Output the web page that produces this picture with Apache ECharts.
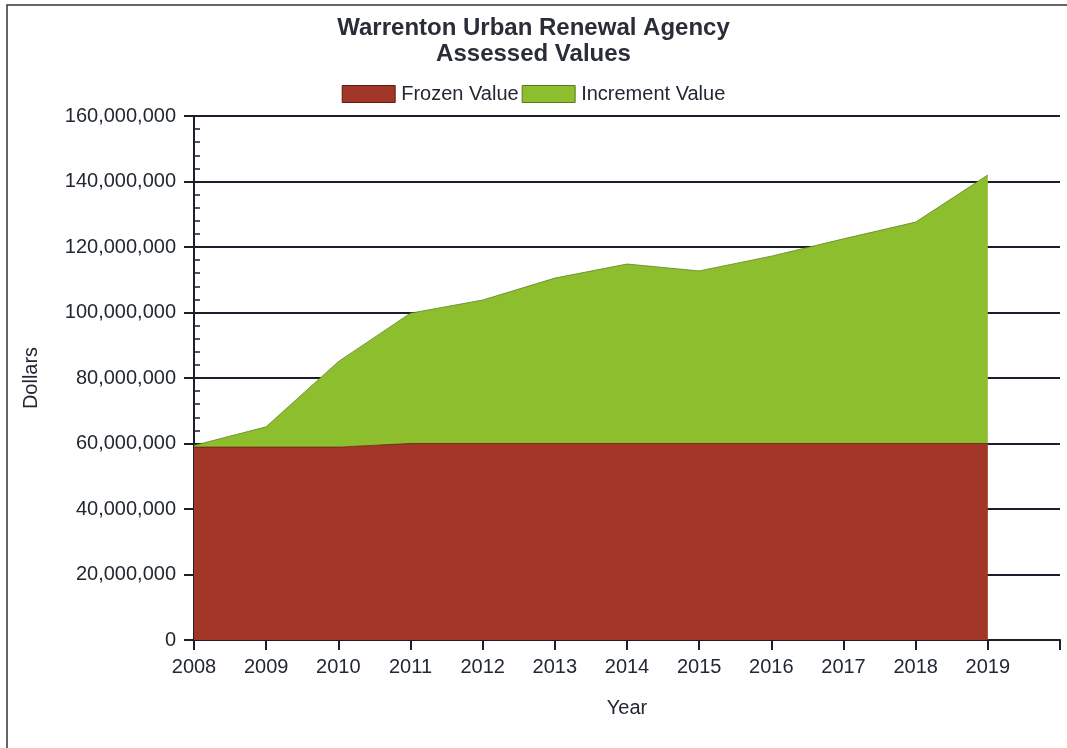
<!DOCTYPE html>
<html>
<head>
<meta charset="utf-8">
<script src="https://cdn.jsdelivr.net/npm/echarts@6/dist/echarts.min.js"></script>
<style>
  html, body { margin: 0; padding: 0; background: #fff; }
  #chart { width: 1067px; height: 748px; }
</style>
</head>
<body>
<div id="chart"></div>
<script>
// years on the axis, last slot is an empty one so the axis runs past 2019
const years = ['2008', '2009', '2010', '2011', '2012', '2013', '2014', '2015', '2016', '2017', '2018', '2019', '']
// in dollars
const frozenValue = [58900000, 58900000, 58900000, 60000000, 60000000, 60000000, 60000000, 60000000, 60000000, 60000000, 60000000, 60000000]
const totalValue = [59400000, 65100000, 85000000, 99800000, 103800000, 110500000, 114800000, 112700000, 117200000, 122500000, 127600000, 142000000]
const incrementValue = totalValue.map((t, i) => t - frozenValue[i])

const FONT = 'Liberation Sans, Arial, sans-serif'
const TEXT = '#222831'
const LINE = '#1c1f2b'

const GRID_LEFT = 194
const GRID_RIGHT = 7
const WIDTH = 1067

const chart = echarts.init(document.getElementById('chart'))

const yBase = {
  type: 'value',
  min: 0,
  max: 160000000,
  interval: 20000000
}

chart.setOption({
  animation: false,
  title: {
    text: 'Warrenton Urban Renewal Agency\nAssessed Values',
    left: 'center',
    top: 10,
    textStyle: {
      fontFamily: FONT,
      fontSize: 24,
      fontWeight: 'bold',
      color: '#2a2d38',
      lineHeight: 26
    }
  },
  legend: {
    top: 79,
    left: 'center',
    icon: 'rect',
    itemWidth: 53,
    itemHeight: 17,
    itemGap: 3,
    textStyle: { fontFamily: FONT, fontSize: 20, color: TEXT, padding: [0, 0, 0, 1] },
    data: [
      { name: 'Frozen Value', itemStyle: { borderColor: '#5a1d15', borderWidth: 1 } },
      { name: 'Increment Value', itemStyle: { borderColor: '#5c7a1c', borderWidth: 1 } }
    ]
  },
  grid: { left: GRID_LEFT, right: GRID_RIGHT, top: 116, bottom: 108 },
  xAxis: {
    type: 'category',
    boundaryGap: false,
    data: years,
    name: 'Year',
    nameLocation: 'middle',
    nameGap: 58,
    nameTextStyle: { fontFamily: FONT, fontSize: 20, color: TEXT },
    axisLine: { lineStyle: { color: LINE, width: 2 } },
    axisTick: { show: true, length: 10, lineStyle: { color: LINE, width: 2 } },
    axisLabel: { fontFamily: FONT, fontSize: 20, color: TEXT, margin: 17, interval: 0 },
    splitLine: { show: false }
  },
  yAxis: [
    Object.assign({}, yBase, {
      position: 'left',
      name: 'Dollars',
      nameLocation: 'middle',
      nameGap: 153,
      nameTextStyle: { fontFamily: FONT, fontSize: 20, color: TEXT },
      axisLine: { show: true, lineStyle: { color: LINE, width: 2 } },
      axisTick: { show: true, length: 10, lineStyle: { color: LINE, width: 2 } },
      axisLabel: {
        fontFamily: FONT,
        fontSize: 20,
        color: TEXT,
        margin: 18,
        formatter: v => v.toLocaleString('en-US')
      },
      splitLine: { show: true, lineStyle: { color: LINE, width: 2 } }
    }),
    // right-side axis moved over onto the left line, only for the small ticks pointing into the plot
    Object.assign({}, yBase, {
      position: 'right',
      offset: -(WIDTH - GRID_LEFT - GRID_RIGHT),
      axisLine: { show: false },
      axisTick: { show: false },
      minorTick: { show: true, splitNumber: 5, length: 6, lineStyle: { color: LINE, width: 1.5 } },
      axisLabel: { show: false },
      splitLine: { show: false }
    })
  ],
  series: [
    {
      name: 'Frozen Value',
      type: 'line',
      stack: 'total',
      data: frozenValue,
      symbol: 'none',
      lineStyle: { width: 0.8, color: '#6d2318' },
      areaStyle: { color: '#a13526', opacity: 1 },
      itemStyle: { color: '#a13526' },
      z: 2
    },
    {
      name: 'Increment Value',
      type: 'line',
      stack: 'total',
      data: incrementValue,
      symbol: 'none',
      lineStyle: { width: 0.8, color: '#5f8420' },
      areaStyle: { color: '#8dbe2e', opacity: 1 },
      itemStyle: { color: '#8dbe2e' },
      z: 2
    }
  ],
  graphic: [
    {
      type: 'rect',
      shape: { x: 7, y: 5, width: 1070, height: 770 },
      style: { fill: 'none', stroke: '#333', lineWidth: 1.5 },
      silent: true
    }
  ]
})
</script>
</body>
</html>
